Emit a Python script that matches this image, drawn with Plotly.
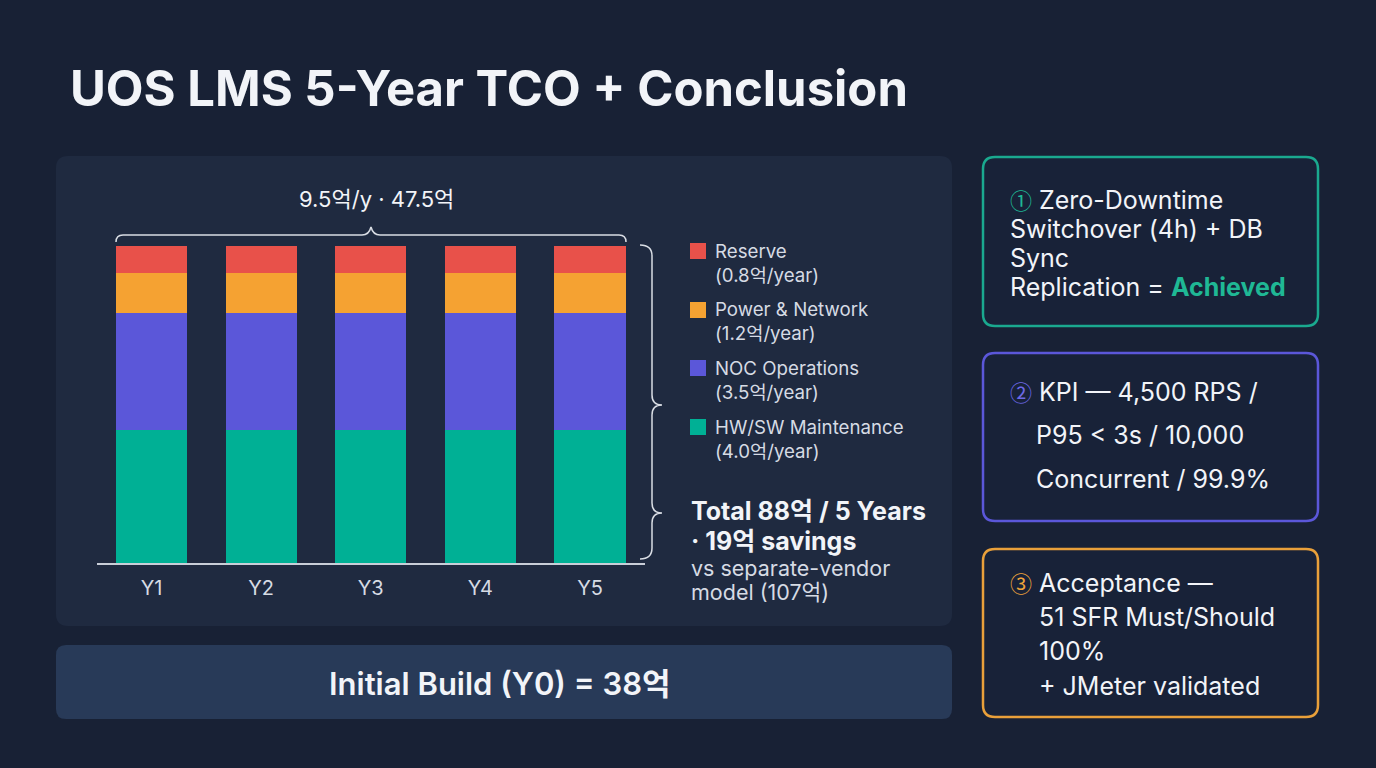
import plotly.graph_objects as go

W, H = 1376, 768

# ---- data ----
years = ["Y1", "Y2", "Y3", "Y4", "Y5"]
series_names = ["HW/SW Maintenance", "NOC Operations", "Power & Network", "Reserve"]
series_values = [4.0, 3.5, 1.2, 0.8]  # 억 per year (bottom -> top)
series_colors = ["#00b095", "#5b57d9", "#f5a232", "#e8514a"]
annual_total = 9.5
five_year_total = 47.5
total_label = "Total 88억 / 5 Years"
savings_label = "· 19억 savings"
compare_label = ["vs separate-vendor", "model (107억)"]
initial_build = "Initial Build (Y0) = 38억"

FONT = "Inter, 'Noto Sans CJK KR', 'DejaVu Sans', sans-serif"
BG = "#182135"
PANEL = "#1f2a40"
BANNER = "#283a58"
CARD = "#182238"
TXT = "#f2f4f8"
SUB = "#d6dbe4"


def px(x):
    return x / W


def py(y):
    return 1 - y / H


def rrect(x0, y0, x1, y1, r):
    pts = [
        f"M {px(x0 + r)},{py(y0)}",
        f"L {px(x1 - r)},{py(y0)}",
        f"Q {px(x1)},{py(y0)} {px(x1)},{py(y0 + r)}",
        f"L {px(x1)},{py(y1 - r)}",
        f"Q {px(x1)},{py(y1)} {px(x1 - r)},{py(y1)}",
        f"L {px(x0 + r)},{py(y1)}",
        f"Q {px(x0)},{py(y1)} {px(x0)},{py(y1 - r)}",
        f"L {px(x0)},{py(y0 + r)}",
        f"Q {px(x0)},{py(y0)} {px(x0 + r)},{py(y0)}",
        "Z",
    ]
    return " ".join(pts)


def path(cmds):
    out = []
    for c in cmds:
        op, *coords = c
        s = op
        for i in range(0, len(coords), 2):
            s += f" {px(coords[i])},{py(coords[i + 1])}"
        out.append(s)
    return " ".join(out)


shapes = []
annotations = []


def ann(text, x, y, size, color=TXT, weight=400, xanchor="left", yanchor="middle"):
    annotations.append(dict(
        text=text, x=px(x), y=py(y), xref="paper", yref="paper",
        xanchor=xanchor, yanchor=yanchor, showarrow=False,
        font=dict(family=FONT, size=size, color=color, weight=weight),
    ))


# panels
shapes.append(dict(type="path", path=rrect(56, 156, 952, 626, 12), fillcolor=PANEL,
                   line=dict(width=0), xref="paper", yref="paper", layer="below"))
shapes.append(dict(type="path", path=rrect(56, 645, 952, 719, 10), fillcolor=BANNER,
                   line=dict(width=0), xref="paper", yref="paper", layer="below"))

cards = [
    (157, 326, "#1aa98f"),
    (353, 521, "#5b57d9"),
    (549, 717, "#e9a03a"),
]
for y0, y1, col in cards:
    shapes.append(dict(type="path", path=rrect(983, y0, 1318, y1, 12), fillcolor=CARD,
                       line=dict(width=2.5, color=col), xref="paper", yref="paper", layer="below"))

# braces
BR = "#d9dde4"
top_brace = path([
    ("M", 116, 242), ("Q", 116, 235, 123, 235), ("L", 362, 235),
    ("Q", 369, 235, 371, 227), ("Q", 373, 235, 380, 235), ("L", 619, 235),
    ("Q", 626, 235, 626, 242),
])
shapes.append(dict(type="path", path=top_brace, line=dict(color=BR, width=1.5),
                   xref="paper", yref="paper", layer="above"))
right_brace = path([
    ("M", 640, 245), ("Q", 652, 245, 652, 256), ("L", 652, 395),
    ("Q", 652, 405, 662, 405), ("Q", 652, 405, 652, 415), ("L", 652, 503),
    ("Q", 652, 513, 662, 513), ("Q", 652, 513, 652, 523), ("L", 652, 548),
    ("Q", 652, 559, 640, 559),
])
shapes.append(dict(type="path", path=right_brace, line=dict(color=BR, width=1.5),
                   xref="paper", yref="paper", layer="above"))

# legend (top -> bottom is reverse stacking order)
leg_y = [251, 310, 368, 427]
for i, idx in enumerate([3, 2, 1, 0]):
    yc = leg_y[i]
    shapes.append(dict(type="rect", x0=px(690), x1=px(706), y0=py(yc - 8), y1=py(yc + 8),
                       fillcolor=series_colors[idx], line=dict(width=0),
                       xref="paper", yref="paper"))
    ann(series_names[idx], 713, yc, 18.7, color=SUB)
    ann(f"({series_values[idx]:.1f}억/year)", 713, yc + 24, 18.7, color=SUB)

ann(total_label, 689, 511, 25, weight=700)
ann(savings_label, 689, 541, 25, weight=700)
ann(compare_label[0], 689, 568, 21.5, color=SUB)
ann(compare_label[1], 689, 592, 21.5, color=SUB)

# top brace label
ann(f"{annual_total}억/y · {five_year_total}억", 376, 199, 22, xanchor="center")

# title
ann("UOS LMS 5-Year TCO + Conclusion", 68, 89, 49, weight=700)

# banner text
ann(initial_build, 500, 683, 31, weight=600, xanchor="center")

# cards text
T1, T2, T3 = "#1fb895", "#6d69e6", "#f0a53a"


def circ(ch, col):
    return (f"<span style='color:{col};font-family:\"Noto Sans CJK KR\";"
            f"font-size:22px'>{ch}</span>")


CS = 25
ann(f"{circ('①', T1)} Zero-Downtime", 1008, 199, CS)
ann("Switchover (4h) + DB", 1008, 229, CS)
ann("Sync", 1008, 258, CS)
ann(f"Replication = <b><span style='color:{T1}'>Achieved</span></b>", 1008, 287, CS)

ann(f"{circ('②', T2)} KPI — 4,500 RPS /", 1008, 391, CS)
ann("P95 < 3s / 10,000", 1034, 435, CS)
ann("Concurrent / 99.9%", 1034, 479, CS)

ann(f"{circ('③', T3)} Acceptance —", 1008, 582, CS)
ann("51 SFR Must/Should", 1037, 617, CS)
ann("100%", 1037, 651, CS)
ann("+ JMeter validated", 1037, 686, CS)

# ---- bars ----
fig = go.Figure()
for name, val, col in zip(series_names, series_values, series_colors):
    fig.add_trace(go.Bar(
        x=years, y=[val] * len(years), name=name, marker=dict(color=col, line=dict(width=0)),
        showlegend=False, hoverinfo="skip",
    ))

base_y = 563
unit_px = (563 - 246) / annual_total
top_px = base_y - 10 * unit_px
fig.update_layout(
    width=W, height=H, margin=dict(l=0, r=0, t=0, b=0),
    paper_bgcolor=BG, plot_bgcolor="rgba(0,0,0,0)",
    barmode="stack", bargap=0.352,
    xaxis=dict(domain=[96.7 / W, 644.8 / W], range=[-0.5, 4.5], showgrid=False,
               zeroline=False, showline=True, linecolor="#c9ced8", linewidth=1.5,
               ticks="", tickfont=dict(family=FONT, size=20, color=SUB),
               ticklabelstandoff=6, fixedrange=True),
    yaxis=dict(domain=[py(base_y), py(top_px)], range=[0, 10], showgrid=False,
               zeroline=False, showticklabels=False, showline=False, fixedrange=True),
    shapes=shapes, annotations=annotations,
)

fig.write_html("out.html")
